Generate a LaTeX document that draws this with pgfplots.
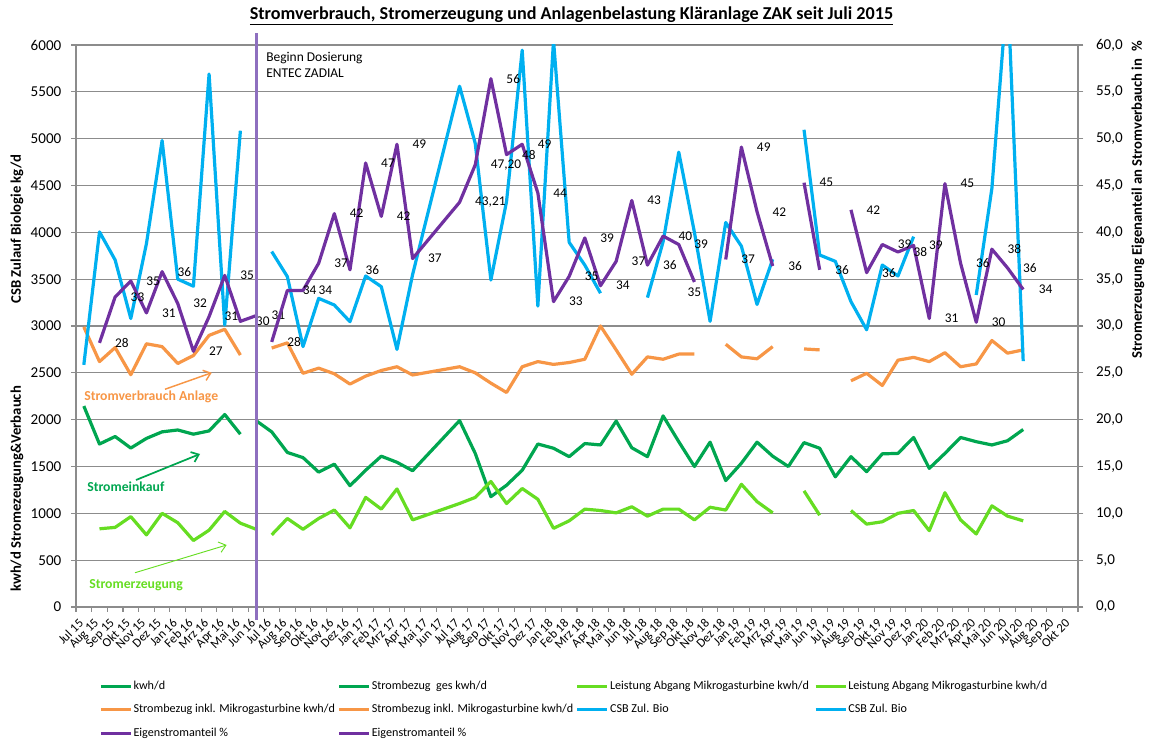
\documentclass[border=0pt]{standalone}
\usepackage{fontspec}
\setmainfont{Carlito}
\usepackage{pgfplots}
\pgfplotsset{compat=1.18}
\usepackage{pgfplotstable}
\usetikzlibrary{arrows.meta}
\definecolor{cOr}{HTML}{F79646}
\definecolor{cDg}{HTML}{00A650}
\definecolor{cLg}{HTML}{66DD22}
\definecolor{cBl}{HTML}{00B0F0}
\definecolor{cPu}{HTML}{7030A0}
\definecolor{cVl}{HTML}{8E6FBF}
\definecolor{cGrid}{HTML}{8C8C8C}

% dark green, part 1 (kwh/d)
\pgfplotstableread{
x y
0 2145
1 1740
2 1820
3 1697
4 1800
5 1870
6 1890
7 1845
8 1880
9 2055
10 1845
}\dgA
% dark green, part 2 (Strombezug ges)
\pgfplotstableread{
x y
11 1990
12 1870
13 1650
14 1595
15 1440
16 1525
17 1295
18 1460
19 1610
20 1545
21 1455
24 1990
25 1640
26 1178
27 1300
28 1460
29 1740
30 1695
31 1605
32 1745
33 1730
34 1985
35 1700
36 1605
37 2040
38 1765
39 1500
40 1760
41 1350
42 1535
43 1760
44 1610
45 1500
46 1755
47 1695
48 1390
49 1605
50 1445
51 1635
52 1640
53 1810
54 1480
55 1640
56 1810
57 1765
58 1730
59 1775
60 1895
}\dgB
% light green part 1
\pgfplotstableread{
x y
1 835
2 850
3 965
4 770
5 1000
6 900
7 710
8 820
9 1020
10 895
11 830
}\lgA
% light green part 2
\pgfplotstableread{
x y
12 770
13 945
14 830
15 945
16 1035
17 845
18 1170
19 1045
20 1260
21 930
24 1105
25 1170
26 1340
27 1105
28 1265
29 1150
30 840
31 920
32 1045
33 1030
34 1005
35 1070
36 970
37 1045
38 1045
39 930
40 1065
41 1035
42 1310
43 1125
44 1005
45 nan
46 1240
47 980
48 nan
49 1030
50 885
51 910
52 1000
53 1030
54 815
55 1220
56 930
57 780
58 1080
59 970
60 920
}\lgB
% orange part 1
\pgfplotstableread{
x y
0 2990
1 2620
2 2770
3 2480
4 2810
5 2780
6 2600
7 2685
8 2900
9 2965
10 2690
}\orA
% orange part 2
\pgfplotstableread{
x y
12 2765
13 2820
14 2495
15 2550
16 2490
17 2380
18 2465
19 2525
20 2565
21 2477
24 2565
25 2500
26 2390
27 2290
28 2565
29 2620
30 2590
31 2610
32 2645
33 3000
34 2745
35 2485
36 2670
37 2645
38 2700
39 2700
40 nan
41 2805
42 2670
43 2650
44 2780
45 nan
46 2755
47 2745
48 nan
49 2415
50 2495
51 2365
52 2635
53 2665
54 2620
55 2715
56 2565
57 2595
58 2845
59 2710
60 2745
}\orB
% blue part 1
\pgfplotstableread{
x y
0 2585
1 4005
2 3705
3 3080
4 3880
5 4980
6 3500
7 3425
8 5690
9 3010
10 5085
}\blA
% blue part 2
\pgfplotstableread{
x y
12 3795
13 3527
14 2780
15 3295
16 3224
17 3046
18 3534
19 3420
20 2750
21 3550
24 5560
25 4950
26 3491
27 4330
28 5945
29 3212
30 6050
31 3893
32 3650
33 3350
34 nan
35 nan
36 3303
37 3900
38 4856
39 4000
40 3050
41 4105
42 3852
43 3230
44 3712
45 nan
46 5095
47 3758
48 3690
49 3260
50 2960
51 3651
52 3534
53 3954
54 nan
55 nan
56 nan
57 3331
58 4470
59 6620
60 2625
}\blB
% purple part 1 (percent)
\pgfplotstableread{
x y l
1 28.2 28
2 33.1 33
3 34.8 35
4 31.4 31
5 35.8 36
6 32.4 32
7 27.3 27
8 31.0 31
9 35.4 35
10 30.5 30
11 31.1 31
}\puA
% purple part 2 (percent)
\pgfplotstableread{
x y l
12 28.3 28
13 33.8 34
14 33.8 34
15 36.7 37
16 42.0 42
17 36.0 36
18 47.4 47
19 41.7 42
20 49.4 49
21 37.2 37
24 43.21 43,21
25 47.20 47,20
26 56.4 56
27 48.3 48
28 49.4 49
29 44.2 44
30 32.6 33
31 35.3 35
32 39.4 39
33 34.3 34
34 36.9 37
35 43.4 43
36 36.5 36
37 39.6 40
38 38.7 39
39 34.7 {}
40 nan {}
41 37.1 37
42 49.1 49
43 42.2 42
44 36.4 36
45 nan {}
46 45.3 45
47 36.0 36
48 nan {}
49 42.4 42
50 35.7 36
51 38.7 39
52 37.9 38
53 38.6 39
54 30.8 31
55 45.2 45
56 36.7 36
57 30.4 30
58 38.2 38
59 36.2 36
60 33.9 34
}\puB
\pgfplotstableread{
x y l
39 34.7 35
}\puC

\newcommand\fs[1]{\fontsize{#1}{#1}\selectfont}

\begin{document}
\begin{tikzpicture}
\path[use as bounding box] (-57pt,-101.25pt) rectangle (809.25pt,455.25pt);
\begin{axis}[
  at={(0pt,0pt)}, anchor=south west, scale only axis,
  width=751.5pt, height=421.5pt,
  xmin=-0.5, xmax=63.5, ymin=0, ymax=6000,
  axis x line*=bottom, axis y line*=left,
  axis line style={cGrid, line width=0.9pt, -},
  tick align=outside, major tick length=3.5pt,
  tick style={cGrid, line width=0.8pt},
  ytick={0,500,...,6000}, ymajorgrids,
  grid style={cGrid, line width=0.9pt},
  /pgf/number format/assume math mode=true,
  /pgf/number format/1000 sep={},
  scaled y ticks=false,
  yticklabel style={font=\fs{11.3}, xshift=-4pt},
  xtick={-0.5,0.5,...,63.5}, xticklabels={,,},
  extra x ticks={0,...,63},
  extra x tick labels={Jul 15,Aug 15,Sep 15,Okt 15,Nov 15,Dez 15,Jan 16,Feb 16,Mrz 16,Apr 16,Mai 16,Jun 16,Jul 16,Aug 16,Sep 16,Okt 16,Nov 16,Dez 16,Jan 17,Feb 17,Mrz 17,Apr 17,Mai 17,Jun 17,Jul 17,Aug 17,Sep 17,Okt 17,Nov 17,Dez 17,Jan 18,Feb 18,Mrz 18,Apr 18,Mai 18,Jun 18,Jul 18,Aug 18,Sep 18,Okt 18,Nov 18,Dez 18,Jan 19,Feb 19,Mrz 19,Apr 19,Mai 19,Jun 19,Jul 19,Aug 19,Sep 19,Okt 19,Nov 19,Dez 19,Jan 20,Feb 20,Mrz 20,Apr 20,Mai 20,Jun 20,Jul 20,Aug 20,Sep 20,Okt 20},
  extra x tick style={tick style={draw=none}, grid=none,
     xticklabel style={xshift=-4.5pt, yshift=-3pt, rotate=45, anchor=north east, font=\fs{9.5}, inner sep=1pt}},
  clip mode=individual, unbounded coords=jump,
  every axis plot/.append style={line width=2.4pt, line join=round},
  legend columns=4, legend cell align=left,
  legend image code/.code={\draw[#1] (0pt,0pt) -- (22.5pt,0pt);},
  legend style={at={(0.02295,-0.1197)}, anchor=north west, draw=none, fill=none,
     inner sep=0pt, font=\fs{9.1},
     cells={minimum height=17.6pt, inner sep=0pt, anchor=west},
     /tikz/every odd column/.append style={column sep=-1.2pt}},
]
\addplot[cDg] table[x=x,y=y] {\dgA};
\addlegendentry{\makebox[151pt][l]{kwh/d}}
\addplot[cDg] table[x=x,y=y] {\dgB};
\addlegendentry{\makebox[151pt][l]{Strombezug\ \ ges kwh/d}}
\addplot[cLg] table[x=x,y=y] {\lgA};
\addlegendentry{\makebox[151pt][l]{Leistung Abgang Mikrogasturbine kwh/d}}
\addplot[cLg] table[x=x,y=y] {\lgB};
\addlegendentry{\makebox[151pt][l]{Leistung Abgang Mikrogasturbine kwh/d}}
\addplot[cOr] table[x=x,y=y] {\orA};
\addlegendentry{\makebox[151pt][l]{Strombezug inkl. Mikrogasturbine kwh/d}}
\addplot[cOr] table[x=x,y=y] {\orB};
\addlegendentry{\makebox[151pt][l]{Strombezug inkl. Mikrogasturbine kwh/d}}
\addplot[cBl] table[x=x,y=y] {\blA};
\addlegendentry{\makebox[151pt][l]{CSB Zul. Bio}}
\addplot[cBl] table[x=x,y=y] {\blB};
\addlegendentry{\makebox[151pt][l]{CSB Zul. Bio}}
\addlegendimage{cPu, line width=2.4pt}
\addlegendentry{\makebox[151pt][l]{Eigenstromanteil \%}}
\addlegendimage{cPu, line width=2.4pt}
\addlegendentry{\makebox[151pt][l]{Eigenstromanteil \%}}
\end{axis}

\begin{axis}[
  at={(0pt,0pt)}, anchor=south west, scale only axis,
  width=751.5pt, height=421.5pt,
  xmin=-0.5, xmax=63.5, ymin=0, ymax=60,
  axis y line*=right, axis x line=none,
  axis line style={cGrid, line width=0.9pt, -},
  tick align=outside, major tick length=4pt,
  tick style={cGrid, line width=0.8pt},
  ytick={0,5,...,60},
  /pgf/number format/assume math mode=true,
  yticklabel style={font=\fs{11.3}, xshift=6pt, /pgf/number format/.cd, fixed, fixed zerofill, precision=1, use comma},
  clip mode=individual, unbounded coords=jump,
  every axis plot/.append style={line width=2.4pt, line join=round},
  point meta=explicit symbolic,
  nodes near coords={\pgfplotspointmeta},
  every node near coord/.append style={anchor=west, xshift=10.5pt, inner sep=0pt, font=\fs{10}, text=black},
]
\addplot[cPu, nodes near coords] table[x=x,y=y,meta=l] {\puA};
\addplot[cPu, nodes near coords] table[x=x,y=y,meta=l] {\puB};
\addplot[draw=none, nodes near coords, every node near coord/.append style={anchor=north, xshift=-10.5pt, yshift=-3pt}] table[x=x,y=y,meta=l] {\puC};
\end{axis}

% vertical marker line and annotations
\draw[cVl, line width=2.3pt] (135.03pt,-9.75pt) -- (135.03pt,430.5pt);
\node[anchor=north west, align=left, font=\fs{10.1}, inner sep=0pt] at (142.5pt,416.25pt) {Beginn Dosierung\\[2pt]ENTEC ZADIAL};

\node[anchor=west, inner sep=0pt, font=\fs{10.3}\bfseries, text=cOr] at (6pt,157.5pt) {Stromverbrauch Anlage};
\draw[cOr, line width=1.1pt, -{Straight Barb[length=5pt,width=8pt]}] (66.75pt,163.3pt) -- (101.8pt,175.7pt);
\node[anchor=west, inner sep=0pt, font=\fs{10.3}\bfseries, text=cDg] at (8.25pt,90.25pt) {Stromeinkauf};
\draw[cDg, line width=1.3pt, -{Straight Barb[length=5pt,width=8pt]}] (45pt,95.25pt) -- (93pt,114.75pt);
\node[anchor=west, inner sep=0pt, font=\fs{10.3}\bfseries, text=cLg] at (9.75pt,16.5pt) {Stromerzeugung};
\draw[cLg, line width=0.7pt, -{Straight Barb[length=5pt,width=8pt]}] (44.25pt,25.7pt) -- (113pt,46.5pt);

% title and axis titles
\node[font=\fs{13.6}\bfseries, inner sep=0pt] at (371.6pt,443.25pt) {\underline{Stromverbrauch, Stromerzeugung und Anlagenbelastung Kläranlage ZAK seit Juli 2015}};
\node[rotate=90, font=\fs{11}\bfseries, inner sep=0pt] at (-44.25pt,283.5pt) {CSB Zulauf Biologie kg/d};
\node[rotate=90, font=\fs{11}\bfseries, inner sep=0pt] at (-44.25pt,88.5pt) {kwh/d Stromezeugung\&Verbauch};
\node[rotate=90, font=\fs{11}\bfseries, inner sep=0pt] at (796.5pt,305.25pt) {Stromerzeugung Eigenanteil an Stromverbauch in\ \ \%};
\end{tikzpicture}
\end{document}
